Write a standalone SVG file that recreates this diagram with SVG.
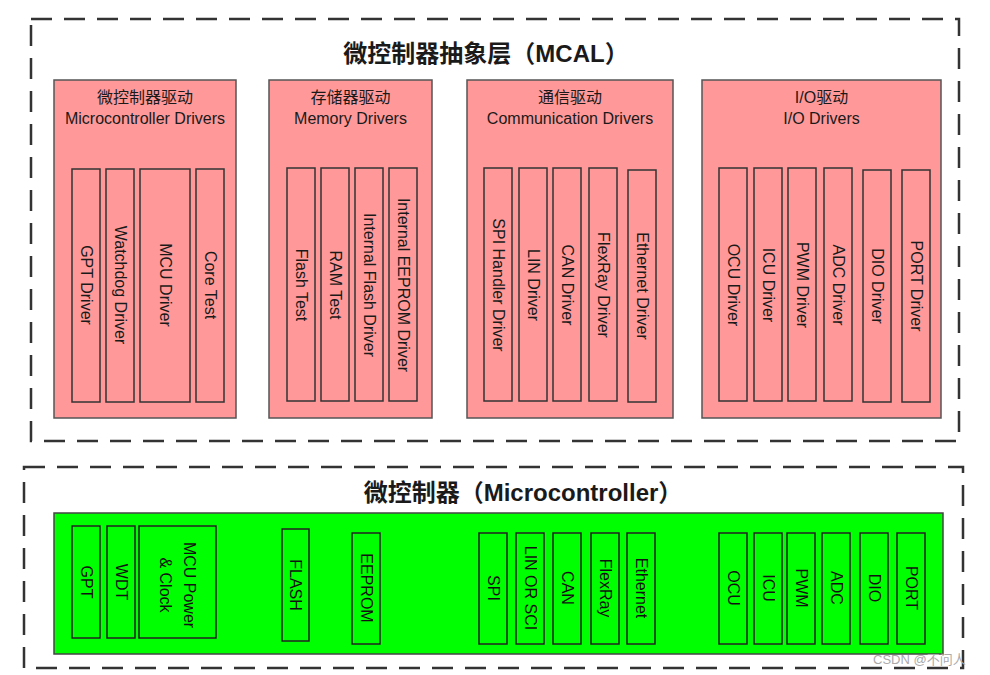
<svg xmlns="http://www.w3.org/2000/svg" width="990" height="675" viewBox="0 0 990 675">
<style>
.dash{fill:none;stroke:#333;stroke-width:2.5;stroke-dasharray:21 12}
.grp{fill:#FF9999;stroke:#555;stroke-width:1.5}
.bar{fill:#FF9999;stroke:#333;stroke-width:1.5}
.gbox{fill:#00FF00;stroke:#444;stroke-width:1.5}
.gbar{fill:#00FF00;stroke:#222;stroke-width:1.5}
text{font-family:"Liberation Sans","Noto Sans CJK SC",sans-serif;fill:#1a1a1a;text-anchor:middle}
.title{font-size:24px;font-weight:bold}
.hdr{font-size:16px}
.vt{font-size:16px;dominant-baseline:central}
.gt{font-size:16px;dominant-baseline:central;fill:#111}
.wm{font-size:13px;fill:#aaa;text-anchor:start}
</style>
<rect width="990" height="675" fill="#fff"/>

<g id="mcal-layer">
<rect class="dash" x="31" y="19" width="928" height="422"/>
<text class="title" x="486" y="62">微控制器抽象层（MCAL）</text>
</g>

<g id="mcu-drivers">
<rect class="grp" x="54" y="80" width="182" height="338"/>
<text class="hdr" x="145" y="103">微控制器驱动</text>
<text class="hdr" x="145" y="124">Microcontroller Drivers</text>
<rect class="bar" x="72" y="169" width="28" height="233"/>
<text class="vt" transform="translate(86,285) rotate(90)">GPT Driver</text>
<rect class="bar" x="106" y="169" width="28" height="233"/>
<text class="vt" transform="translate(120,285) rotate(90)">Watchdog Driver</text>
<rect class="bar" x="140" y="169" width="50" height="233"/>
<text class="vt" transform="translate(165,285) rotate(90)">MCU Driver</text>
<rect class="bar" x="196" y="169" width="28" height="233"/>
<text class="vt" transform="translate(210,285) rotate(90)">Core Test</text>
</g>

<g id="memory-drivers">
<rect class="grp" x="269" y="80" width="163" height="338"/>
<text class="hdr" x="350.5" y="103">存储器驱动</text>
<text class="hdr" x="350.5" y="124">Memory Drivers</text>
<rect class="bar" x="287" y="168" width="28" height="233"/>
<text class="vt" transform="translate(301,285) rotate(90)">Flash Test</text>
<rect class="bar" x="321" y="168" width="28" height="233"/>
<text class="vt" transform="translate(335,285) rotate(90)">RAM Test</text>
<rect class="bar" x="355" y="168" width="28" height="233"/>
<text class="vt" transform="translate(369,285) rotate(90)">Internal Flash Driver</text>
<rect class="bar" x="389" y="168" width="28" height="233"/>
<text class="vt" transform="translate(403,285) rotate(90)">Internal EEPROM Driver</text>
</g>

<g id="comm-drivers">
<rect class="grp" x="467" y="80" width="206" height="338"/>
<text class="hdr" x="570" y="103">通信驱动</text>
<text class="hdr" x="570" y="124">Communication Drivers</text>
<rect class="bar" x="484" y="168" width="28" height="233"/>
<text class="vt" transform="translate(498,285) rotate(90)">SPI Handler Driver</text>
<rect class="bar" x="519" y="168" width="28" height="233"/>
<text class="vt" transform="translate(533,285) rotate(90)">LIN Driver</text>
<rect class="bar" x="553" y="168" width="28" height="233"/>
<text class="vt" transform="translate(567,285) rotate(90)">CAN Driver</text>
<rect class="bar" x="589" y="168" width="28" height="233"/>
<text class="vt" transform="translate(603,285) rotate(90)">FlexRay Driver</text>
<rect class="bar" x="628" y="170" width="28" height="232"/>
<text class="vt" transform="translate(642,286) rotate(90)">Ethernet  Driver</text>
</g>

<g id="io-drivers">
<rect class="grp" x="702" y="80" width="239" height="338"/>
<text class="hdr" x="821.5" y="103">I/O驱动</text>
<text class="hdr" x="821.5" y="124">I/O Drivers</text>
<rect class="bar" x="719" y="168" width="28" height="233"/>
<text class="vt" transform="translate(733,285) rotate(90)">OCU Driver</text>
<rect class="bar" x="754" y="168" width="28" height="233"/>
<text class="vt" transform="translate(768,285) rotate(90)">ICU Driver</text>
<rect class="bar" x="788" y="168" width="28" height="233"/>
<text class="vt" transform="translate(802,285) rotate(90)">PWM Driver</text>
<rect class="bar" x="824" y="168" width="28" height="233"/>
<text class="vt" transform="translate(838,285) rotate(90)">ADC Driver</text>
<rect class="bar" x="863" y="170" width="28" height="232"/>
<text class="vt" transform="translate(877,286) rotate(90)">DIO  Driver</text>
<rect class="bar" x="902" y="170" width="28" height="232"/>
<text class="vt" transform="translate(916,286) rotate(90)">PORT  Driver</text>
</g>

<g id="microcontroller">
<rect class="dash" x="24" y="467" width="939" height="201"/>
<text class="title" x="523" y="501">微控制器（Microcontroller）</text>
<rect class="gbox" x="54" y="513" width="889" height="141"/>
</g>

<g id="hw-units">
<rect class="gbar" x="72" y="526" width="28" height="112"/>
<text class="gt" transform="translate(86,582) rotate(90)">GPT</text>
<rect class="gbar" x="107" y="526" width="28" height="112"/>
<text class="gt" transform="translate(121,582) rotate(90)">WDT</text>
<rect class="gbar" x="139" y="526" width="77" height="112"/>
<text class="gt" transform="translate(177.5,585) rotate(90)"><tspan x="0" dy="-12">MCU Power</tspan><tspan x="0" dy="24">&amp; Clock</tspan></text>
<rect class="gbar" x="282" y="529" width="27" height="112"/>
<text class="gt" transform="translate(295.5,585) rotate(90)">FLASH</text>
<rect class="gbar" x="352" y="533" width="28" height="111"/>
<text class="gt" transform="translate(366,588) rotate(90)">EEPROM</text>
<rect class="gbar" x="479" y="533" width="28" height="111"/>
<text class="gt" transform="translate(493,588) rotate(90)">SPI</text>
<rect class="gbar" x="516" y="533" width="28" height="111"/>
<text class="gt" transform="translate(530,588) rotate(90)">LIN OR SCI</text>
<rect class="gbar" x="553" y="533" width="28" height="111"/>
<text class="gt" transform="translate(567,588) rotate(90)">CAN</text>
<rect class="gbar" x="591" y="533" width="28" height="111"/>
<text class="gt" transform="translate(605,588) rotate(90)">FlexRay</text>
<rect class="gbar" x="627" y="533" width="28" height="111"/>
<text class="gt" transform="translate(641,588) rotate(90)">Ethernet</text>
<rect class="gbar" x="719" y="533" width="28" height="111"/>
<text class="gt" transform="translate(733,588) rotate(90)">OCU</text>
<rect class="gbar" x="754" y="533" width="28" height="111"/>
<text class="gt" transform="translate(768,588) rotate(90)">ICU</text>
<rect class="gbar" x="787" y="533" width="28" height="111"/>
<text class="gt" transform="translate(801,588) rotate(90)">PWM</text>
<rect class="gbar" x="822" y="533" width="28" height="111"/>
<text class="gt" transform="translate(836,588) rotate(90)">ADC</text>
<rect class="gbar" x="860" y="533" width="28" height="111"/>
<text class="gt" transform="translate(874,588) rotate(90)">DIO</text>
<rect class="gbar" x="897" y="533" width="28" height="111"/>
<text class="gt" transform="translate(911,588) rotate(90)">PORT</text>
</g>

<g id="connectors"></g>

<text class="wm" x="873" y="664">CSDN @不问人</text>
</svg>
